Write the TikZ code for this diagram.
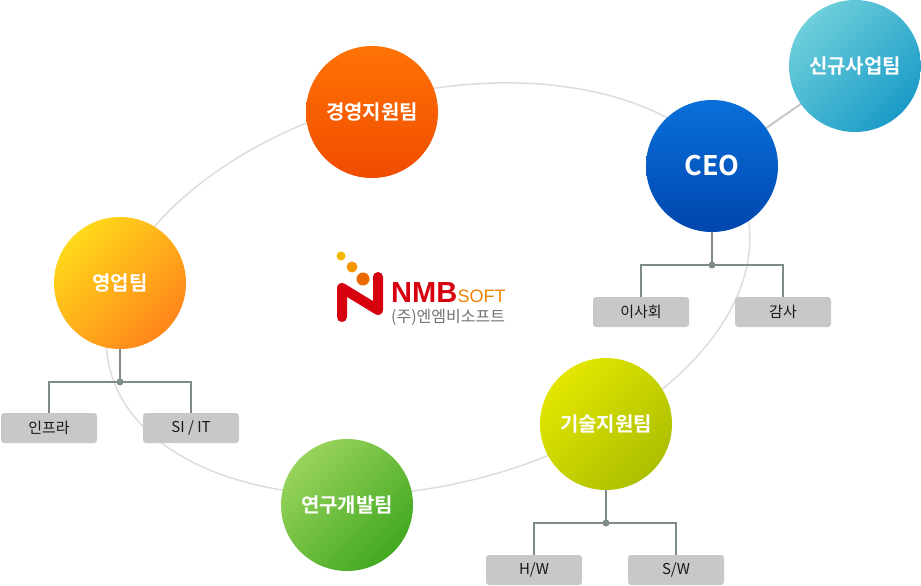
\documentclass[tikz,border=0pt]{standalone}
\usepackage{fontspec}
\newfontfamily\kr{Noto Sans CJK KR}
\newfontfamily\krb{Noto Sans CJK KR Bold}
\newfontfamily\lsans{Liberation Sans}
\usetikzlibrary{calc}
\definecolor{ringgray}{HTML}{DDDDDD}
\definecolor{treegray}{HTML}{7F8B8B}
\definecolor{boxgray}{HTML}{C8C8C8}
\definecolor{nred}{HTML}{D7000F}
\definecolor{norange}{HTML}{F08300}
\definecolor{newA}{HTML}{6DCFDA}
\definecolor{newB}{HTML}{1B9BC8}
\definecolor{ceoA}{HTML}{0A70DA}
\definecolor{ceoB}{HTML}{0046AE}
\definecolor{mgA}{HTML}{FF7305}
\definecolor{mgB}{HTML}{F04C00}
\definecolor{slA}{HTML}{FFD81A}
\definecolor{slB}{HTML}{FF861A}
\definecolor{tcA}{HTML}{E2E600}
\definecolor{tcB}{HTML}{ACBF00}
\definecolor{rdA}{HTML}{98D35C}
\definecolor{rdB}{HTML}{42A820}
\definecolor{dot1}{HTML}{F8B500}
\definecolor{dot2}{HTML}{F39800}
\definecolor{dot3}{HTML}{EA6A00}
\tikzset{
  team/.style={circle, minimum size=132pt, inner sep=0pt, text=white, font=\krb\fontsize{20}{22}\selectfont},
  subbox/.style={rectangle, rounded corners=3pt, fill=boxgray, minimum width=96pt, minimum height=30pt, inner sep=0pt, font=\kr\fontsize{15}{16}\selectfont, text=black!90},
  ring/.style={draw=ringgray, line width=1.5pt},
  tree/.style={draw=treegray, line width=2pt},
  jdot/.style={circle, fill=treegray, inner sep=0pt, minimum size=7pt},
}
\begin{document}
\begin{tikzpicture}[x=1pt, y=-1pt]
\useasboundingbox (0,0) rectangle (921,586);
\fill[white] (0,0) rectangle (921,586);
% ring
\draw[ring, rotate around={14:(428,289)}] (428,289) ellipse [x radius=328pt, y radius=196pt];
% coordinates of centers
\coordinate (cceo) at (712,166);
\coordinate (cnew) at (855,66);
\draw[draw=boxgray, line width=2pt] (cceo) -- (cnew);
% circles
\node[team, top color=newA, bottom color=newB, shading angle=45] (new) at (855,66) {신규사업팀};
\node[team, top color=ceoA, bottom color=ceoB, font=\krb\fontsize{27}{30}\selectfont] (ceo) at (712,166) {CEO};
\node[team, top color=mgA, bottom color=mgB] (mgmt) at (372,112) {경영지원팀};
\node[team, top color=slA, bottom color=slB, shading angle=45] (sales) at (120,283) {영업팀};
\node[team, top color=tcA, bottom color=tcB, shading angle=45] (tech) at (606,424) {기술지원팀};
\node[team, top color=rdA, bottom color=rdB, shading angle=45] (rnd) at (347,505) {연구개발팀};
% sub boxes
\node[subbox] (board) at (641,312) {이사회};
\node[subbox] (audit) at (783,312) {감사};
\node[subbox] (infra) at (49,428) {인프라};
\node[subbox] (siit) at (191,428) {SI / IT};
\node[subbox] (hw) at (534,570) {H/W};
\node[subbox] (sw) at (676,570) {S/W};
% junctions
\coordinate (jceo) at (712,265);
\coordinate (jsales) at (120,382);
\coordinate (jtech) at (606,523);
\draw[tree] (ceo.south) -- (jceo);
\draw[tree] (board.north) |- (jceo) -| (audit.north);
\draw[tree] (sales.south) -- (jsales);
\draw[tree] (infra.north) |- (jsales) -| (siit.north);
\draw[tree] (tech.south) -- (jtech);
\draw[tree] (hw.north) |- (jtech) -| (sw.north);
\node[jdot] (dceo) at (jceo) {};
\node[jdot] (dsales) at (jsales) {};
\node[jdot] (dtech) at (jtech) {};
% logo
\fill[dot1] (341,256) circle (4.5pt);
\fill[dot2] (352,267) circle (5.5pt);
\fill[dot3] (363,279) circle (6.5pt);
\draw[nred, line width=10pt, line join=round, line cap=round] (342,317) -- (342,288) -- (378,310) -- (378,277);
\node[anchor=base west, inner sep=0pt, text depth=0pt, text=nred, font=\lsans\bfseries\fontsize{29}{30}\selectfont] (nmb) at (391,302) {NMB};
\node[anchor=base west, inner sep=0pt, text depth=0pt, text=norange, font=\lsans\fontsize{18}{20}\selectfont] (soft) at (nmb.base east) {SOFT};
\node[anchor=base west, inner sep=0pt, text height=11pt, text depth=2pt, text=black!55, font=\kr\fontsize{16}{17}\selectfont] (kname) at (391,322) {(주)엔엠비소프트};
\end{tikzpicture}
\end{document}
